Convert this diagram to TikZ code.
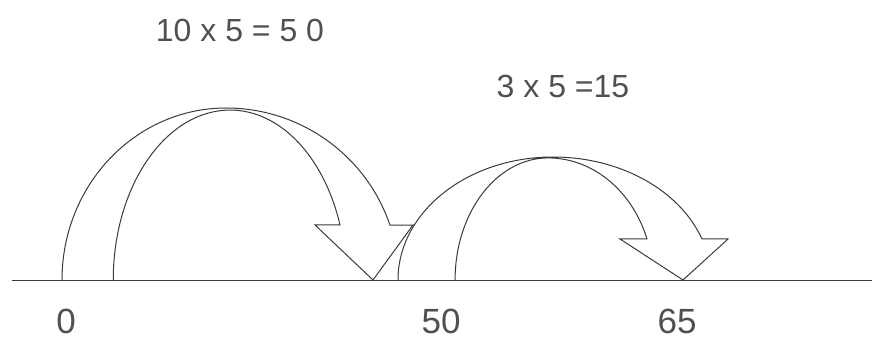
\documentclass[tikz,border=0pt]{standalone}
\usepackage{fontspec}
\setmainfont{Liberation Sans}
\definecolor{ink}{HTML}{3A3A3A}
\definecolor{txt}{HTML}{505050}
\begin{document}
\begin{tikzpicture}[x=1pt,y=1pt,
  stroke/.style={draw=ink,line width=1pt,line join=miter},
  lbl/.style={text=txt,inner sep=0pt,font=\fontsize{32}{36}\selectfont},
  numlbl/.style={text=txt,inner sep=0pt,font=\fontsize{35}{38}\selectfont}]
\useasboundingbox (0,0) rectangle (872,340);
% number line
\coordinate (L) at (12,60);
\coordinate (R) at (872,60);
\draw[stroke] (L) -- (R);
% arrow 1 (0 -> 50)
\coordinate (a1o) at (62,60);
\draw[stroke] (a1o)
  arc[start angle=180,end angle=90,x radius=164,y radius=172]
  arc[start angle=90,end angle=18.6,x radius=173,y radius=172]
  -- (413,115) -- (373,60) -- (315,115) -- (340,115)
  arc[start angle=18.9,end angle=90,x radius=116,y radius=170]
  arc[start angle=90,end angle=180,x radius=117,y radius=170];
% arrow 2 (50 -> 65)
\coordinate (a2o) at (398,60);
\draw[stroke] (a2o)
  arc[start angle=180,end angle=90,x radius=155,y radius=123]
  arc[start angle=90,end angle=19.5,x radius=158,y radius=123]
  -- (728,101) -- (683,60) -- (620,101) -- (647,101)
  arc[start angle=19.6,end angle=90,x radius=105,y radius=122]
  arc[start angle=90,end angle=180,x radius=93,y radius=122];
% labels
\node[lbl] (t1) at (240,310) {10 x 5 = 5 0};
\node[lbl] (t2) at (563,254) {3 x 5 =15};
\node[numlbl] (n0) at (66,19) {0};
\node[numlbl] (n50) at (441,19) {50};
\node[numlbl] (n65) at (677,19) {65};
\end{tikzpicture}
\end{document}
